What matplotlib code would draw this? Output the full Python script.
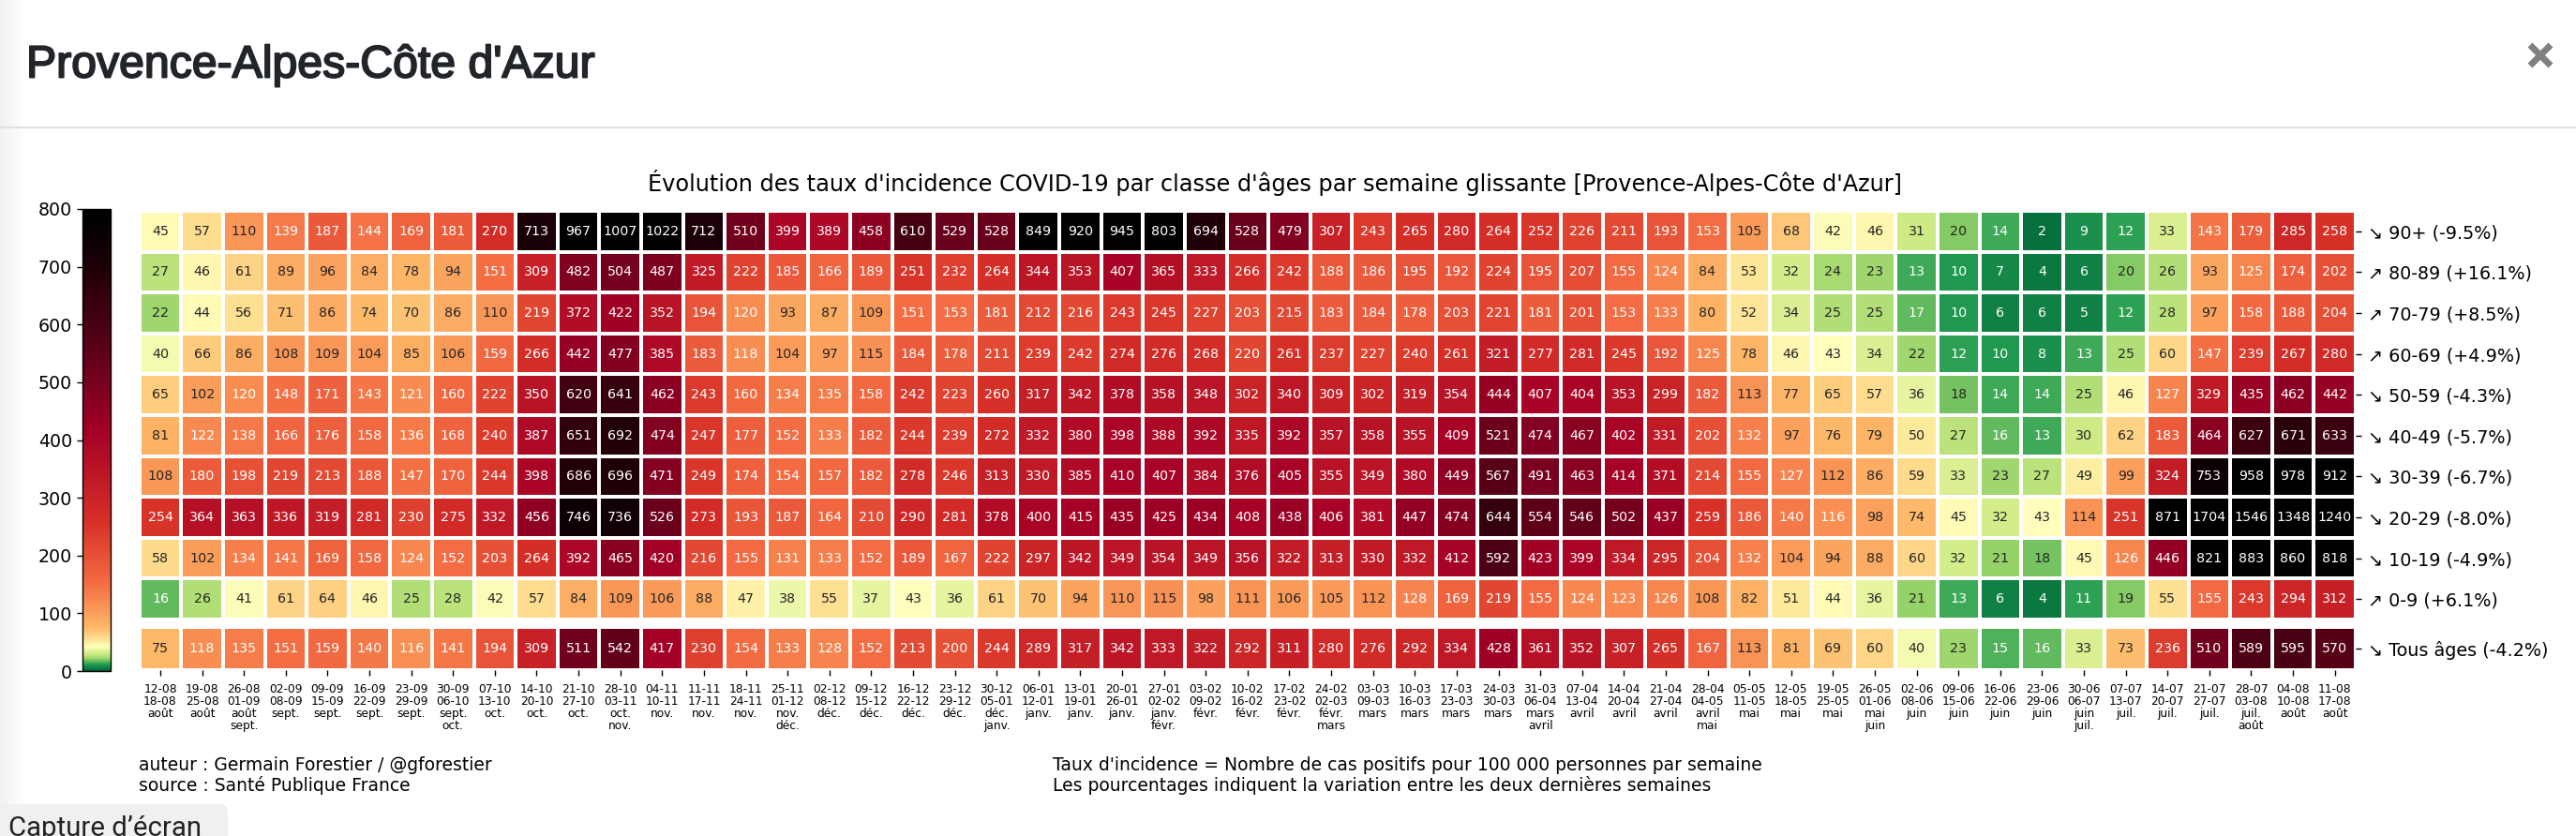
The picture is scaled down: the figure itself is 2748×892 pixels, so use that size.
import numpy as np
import pandas as pd
import matplotlib
matplotlib.use("Agg")
import matplotlib.pyplot as plt
import matplotlib.patheffects as pe
from matplotlib.colors import LinearSegmentedColormap
from matplotlib.patches import FancyBboxPatch
import seaborn as sns

age_labels = ["↘ 90+ (-9.5%)", "↗ 80-89 (+16.1%)", "↗ 70-79 (+8.5%)", "↗ 60-69 (+4.9%)", "↘ 50-59 (-4.3%)",
              "↘ 40-49 (-5.7%)", "↘ 30-39 (-6.7%)", "↘ 20-29 (-8.0%)", "↘ 10-19 (-4.9%)", "↗ 0-9 (+6.1%)"]
all_label = ["↘ Tous âges (-4.2%)"]

a90 = [45, 57, 110, 139, 187, 144, 169, 181, 270, 713, 967, 1007, 1022, 712, 510, 399, 389, 458, 610, 529, 528, 849, 920, 945, 803, 694, 528, 479, 307, 243, 265, 280, 264, 252, 226, 211, 193, 153, 105, 68, 42, 46, 31, 20, 14, 2, 9, 12, 33, 143, 179, 285, 258]
a80 = [27, 46, 61, 89, 96, 84, 78, 94, 151, 309, 482, 504, 487, 325, 222, 185, 166, 189, 251, 232, 264, 344, 353, 407, 365, 333, 266, 242, 188, 186, 195, 192, 224, 195, 207, 155, 124, 84, 53, 32, 24, 23, 13, 10, 7, 4, 6, 20, 26, 93, 125, 174, 202]
a70 = [22, 44, 56, 71, 86, 74, 70, 86, 110, 219, 372, 422, 352, 194, 120, 93, 87, 109, 151, 153, 181, 212, 216, 243, 245, 227, 203, 215, 183, 184, 178, 203, 221, 181, 201, 153, 133, 80, 52, 34, 25, 25, 17, 10, 6, 6, 5, 12, 28, 97, 158, 188, 204]
a60 = [40, 66, 86, 108, 109, 104, 85, 106, 159, 266, 442, 477, 385, 183, 118, 104, 97, 115, 184, 178, 211, 239, 242, 274, 276, 268, 220, 261, 237, 227, 240, 261, 321, 277, 281, 245, 192, 125, 78, 46, 43, 34, 22, 12, 10, 8, 13, 25, 60, 147, 239, 267, 280]
a50 = [65, 102, 120, 148, 171, 143, 121, 160, 222, 350, 620, 641, 462, 243, 160, 134, 135, 158, 242, 223, 260, 317, 342, 378, 358, 348, 302, 340, 309, 302, 319, 354, 444, 407, 404, 353, 299, 182, 113, 77, 65, 57, 36, 18, 14, 14, 25, 46, 127, 329, 435, 462, 442]
a40 = [81, 122, 138, 166, 176, 158, 136, 168, 240, 387, 651, 692, 474, 247, 177, 152, 133, 182, 244, 239, 272, 332, 380, 398, 388, 392, 335, 392, 357, 358, 355, 409, 521, 474, 467, 402, 331, 202, 132, 97, 76, 79, 50, 27, 16, 13, 30, 62, 183, 464, 627, 671, 633]
a30 = [108, 180, 198, 219, 213, 188, 147, 170, 244, 398, 686, 696, 471, 249, 174, 154, 157, 182, 278, 246, 313, 330, 385, 410, 407, 384, 376, 405, 355, 349, 380, 449, 567, 491, 463, 414, 371, 214, 155, 127, 112, 86, 59, 33, 23, 27, 49, 99, 324, 753, 958, 978, 912]
a20 = [254, 364, 363, 336, 319, 281, 230, 275, 332, 456, 746, 736, 526, 273, 193, 187, 164, 210, 290, 281, 378, 400, 415, 435, 425, 434, 408, 438, 406, 381, 447, 474, 644, 554, 546, 502, 437, 259, 186, 140, 116, 98, 74, 45, 32, 43, 114, 251, 871, 1704, 1546, 1348, 1240]
a10 = [58, 102, 134, 141, 169, 158, 124, 152, 203, 264, 392, 465, 420, 216, 155, 131, 133, 152, 189, 167, 222, 297, 342, 349, 354, 349, 356, 322, 313, 330, 332, 412, 592, 423, 399, 334, 295, 204, 132, 104, 94, 88, 60, 32, 21, 18, 45, 126, 446, 821, 883, 860, 818]
a00 = [16, 26, 41, 61, 64, 46, 25, 28, 42, 57, 84, 109, 106, 88, 47, 38, 55, 37, 43, 36, 61, 70, 94, 110, 115, 98, 111, 106, 105, 112, 128, 169, 219, 155, 124, 123, 126, 108, 82, 51, 44, 36, 21, 13, 6, 4, 11, 19, 55, 155, 243, 294, 312]
all_ages = [75, 118, 135, 151, 159, 140, 116, 141, 194, 309, 511, 542, 417, 230, 154, 133, 128, 152, 213, 200, 244, 289, 317, 342, 333, 322, 292, 311, 280, 276, 292, 334, 428, 361, 352, 307, 265, 167, 113, 81, 69, 60, 40, 23, 15, 16, 33, 73, 236, 510, 589, 595, 570]

week_start = ["12-08", "19-08", "26-08", "02-09", "09-09", "16-09", "23-09", "30-09", "07-10", "14-10", "21-10", "28-10", "04-11", "11-11", "18-11", "25-11", "02-12", "09-12", "16-12", "23-12", "30-12", "06-01", "13-01", "20-01", "27-01", "03-02", "10-02", "17-02", "24-02", "03-03", "10-03", "17-03", "24-03", "31-03", "07-04", "14-04", "21-04", "28-04", "05-05", "12-05", "19-05", "26-05", "02-06", "09-06", "16-06", "23-06", "30-06", "07-07", "14-07", "21-07", "28-07", "04-08", "11-08"]
week_end = ["18-08", "25-08", "01-09", "08-09", "15-09", "22-09", "29-09", "06-10", "13-10", "20-10", "27-10", "03-11", "10-11", "17-11", "24-11", "01-12", "08-12", "15-12", "22-12", "29-12", "05-01", "12-01", "19-01", "26-01", "02-02", "09-02", "16-02", "23-02", "02-03", "09-03", "16-03", "23-03", "30-03", "06-04", "13-04", "20-04", "27-04", "04-05", "11-05", "18-05", "25-05", "01-06", "08-06", "15-06", "22-06", "29-06", "06-07", "13-07", "20-07", "27-07", "03-08", "10-08", "17-08"]
months = ["août", "août", "août\nsept.", "sept.", "sept.", "sept.", "sept.", "sept.\noct.", "oct.", "oct.", "oct.", "oct.\nnov.", "nov.", "nov.", "nov.", "nov.\ndéc.", "déc.", "déc.", "déc.", "déc.", "déc.\njanv.", "janv.", "janv.", "janv.", "janv.\nfévr.", "févr.", "févr.", "févr.", "févr.\nmars", "mars", "mars", "mars", "mars", "mars\navril", "avril", "avril", "avril", "avril\nmai", "mai", "mai", "mai", "mai\njuin", "juin", "juin", "juin", "juin", "juin\njuil.", "juil.", "juil.", "juil.", "juil.\naoût", "août", "août"]

W, H = 2748, 892


def box(x0, y0, x1, y1):
    # pixel box (y from the top) to figure fractions
    return [x0 / W, 1 - y1 / H, (x1 - x0) / W, (y1 - y0) / H]


# green -> yellow fast, then orange -> red, then down to black
vmax = 800
rdylgn = plt.get_cmap("RdYlGn_r")
nodes = [(0, 0.0), (10, 0.11), (20, 0.27), (30, 0.38), (42, 0.5), (50, 0.57), (75, 0.68), (117, 0.748), (150, 0.80), (260, 0.9), (415, 1.0)]
colors = [(v / vmax, rdylgn(p)) for v, p in nodes]
colors += [(500 / vmax, "#76001e"), (600 / vmax, "#480012"), (700 / vmax, "#1e0007"), (775 / vmax, "#030001"), (1.0, "#000000")]
cmap = LinearSegmentedColormap.from_list("incidence", colors, N=512)

fig = plt.figure(figsize=(W / 100, H / 100), dpi=100)

# page behind the chart
bg = fig.add_axes([0, 0, 1, 1])
bg.imshow(np.linspace(0.945, 1, 30)[None, :], extent=(0, 30, H, 0), cmap="gray", vmin=0, vmax=1, aspect="auto")
bg.set_xlim(0, W)
bg.set_ylim(H, 0)
bg.axis("off")
bg.plot([0, W], [136, 136], color="#dee2e6", lw=1.6)
bg.text(28, 70, "Provence-Alpes-Côte d'Azur", family="Liberation Sans", fontsize=34.7, color="#212529", va="center",
        path_effects=[pe.withStroke(linewidth=1.4, foreground="#212529")])
bg.plot([2699, 2721], [48, 70], color="#808080", lw=5, solid_capstyle="butt")
bg.plot([2699, 2721], [70, 48], color="#808080", lw=5, solid_capstyle="butt")
bg.add_patch(FancyBboxPatch((-20, 858), 263, 60, boxstyle="round,pad=0,rounding_size=8", fc="#f0f0f0", ec="none"))
bg.text(9, 884, "Capture d’écran", family="Roboto", fontsize=21.2, color="#222222", va="center")

ax = fig.add_axes(box(148.7, 225, 2513, 661))
ax2 = fig.add_axes(box(148.7, 669, 2513, 715))
cax = fig.add_axes(box(88, 223, 118, 716))

df = pd.DataFrame([a90, a80, a70, a60, a50, a40, a30, a20, a10, a00], index=age_labels)
df_all = pd.DataFrame([all_ages], index=all_label)
kw = dict(annot=True, fmt="d", cmap=cmap, vmin=0, vmax=vmax, linewidths=1.6, linecolor="white", cbar=False,
          annot_kws={"size": 10.3})
sns.heatmap(df, ax=ax, **kw)
sns.heatmap(df_all, ax=ax2, **kw)

ax.set_xticks([])
for a in (ax, ax2):
    a.yaxis.tick_right()
    a.tick_params(axis="y", labelsize=13.8, length=4.5, width=1, pad=5, labelrotation=0)

ax2.set_xticks(np.arange(len(week_start)) + 0.5)
ax2.set_xticklabels([f"{s}\n{e}\n{m}" for s, e, m in zip(week_start, week_end, months)], rotation=0,
                    fontsize=8.8, linespacing=1.0, va="top")
ax2.tick_params(axis="x", length=4, width=1, pad=6)

cb = fig.colorbar(ax.collections[0], cax=cax)
cb.set_ticks(np.arange(0, 900, 100))
cax.yaxis.set_ticks_position("left")
cax.tick_params(labelsize=13.7, length=4.5, width=1)
cb.outline.set_linewidth(1)

fig.text(1360 / W, 1 - 195 / H, "Évolution des taux d'incidence COVID-19 par classe d'âges par semaine glissante [Provence-Alpes-Côte d'Azur]",
         ha="center", va="center", fontsize=17.3)
fig.text(148 / W, 1 - 816 / H, "auteur : Germain Forestier / @gforestier", va="center", fontsize=13.5)
fig.text(148 / W, 1 - 838 / H, "source : Santé Publique France", va="center", fontsize=13.5)
fig.text(1123 / W, 1 - 816 / H, "Taux d'incidence = Nombre de cas positifs pour 100 000 personnes par semaine", va="center", fontsize=13.5)
fig.text(1123 / W, 1 - 838 / H, "Les pourcentages indiquent la variation entre les deux dernières semaines", va="center", fontsize=13.5)

fig.savefig("out.png", dpi=100)
